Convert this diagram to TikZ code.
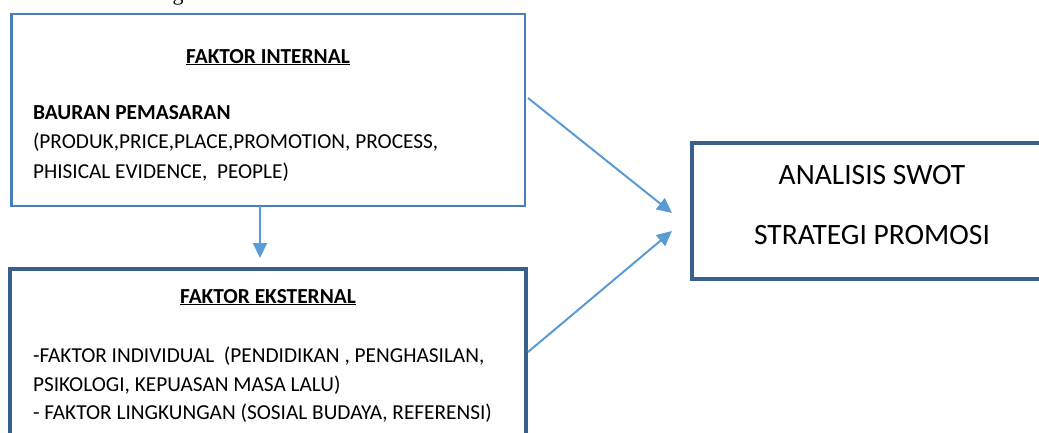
\documentclass[tikz,border=0pt]{standalone}
\usepackage{fontspec}
\setmainfont{Carlito}
\newfontfamily\cutserif{Liberation Serif}
\usetikzlibrary{arrows.meta}
\definecolor{thinblue}{HTML}{4A7EBB}
\definecolor{darkblue}{HTML}{3A5F8D}
\definecolor{arrowblue}{HTML}{5B9BD5}
\begin{document}
\begin{tikzpicture}[x=1pt,y=-1pt,
  box/.style={rectangle, inner sep=0pt, outer sep=0pt},
  thinbox/.style={box, draw=thinblue, line width=2.5pt},
  thickbox/.style={box, draw=darkblue, line width=4.5pt},
  txt/.style={inner sep=0pt, outer sep=0pt, font=\fontsize{21.3}{25}\selectfont},
  ttl/.style={inner sep=0pt, outer sep=0pt, font=\fontsize{21.4}{25}\selectfont\bfseries},
  big/.style={inner sep=0pt, outer sep=0pt, font=\fontsize{29.5}{34}\selectfont},
  conn/.style={draw=arrowblue, line width=2pt, -{Triangle[length=15pt,width=14pt]}}
]
\useasboundingbox (0,0) rectangle (1039,432);
\clip (0,0) rectangle (1039,432);

% cut-off glyph from the text above the figure
\node[inner sep=0pt, anchor=base, font=\cutserif\fontsize{22}{26}\selectfont] (cut) at (178,0.5) {g};

% boxes
\node[thinbox, minimum width=513.6pt, minimum height=192pt] (int) at (268.2,110) {};
\node[thickbox, minimum width=516pt, minimum height=200pt] (ext) at (268,369) {};
\node[thickbox, minimum width=408pt, minimum height=136pt] (swot) at (896,211) {};

% texts of internal box
\node[ttl, anchor=base] (t1) at (268,63) {\underline{FAKTOR INTERNAL}};
\node[ttl, anchor=base west] (b1) at (33,119.5) {BAURAN PEMASARAN};
\node[txt, anchor=base west] (b2) at (33,148) {(PRODUK,PRICE,PLACE,PROMOTION, PROCESS,};
\node[txt, anchor=base west] (b3) at (33,178) {PHISICAL EVIDENCE,\ \ PEOPLE)};

% texts of external box
\node[ttl, anchor=base] (t2) at (268,303) {\underline{FAKTOR EKSTERNAL}};
\node[txt, anchor=base west] (e1) at (33,362) {-FAKTOR INDIVIDUAL\ \ (PENDIDIKAN , PENGHASILAN,};
\node[txt, anchor=base west] (e2) at (33,391) {PSIKOLOGI, KEPUASAN MASA LALU)};
\node[txt, anchor=base west] (e3) at (33,419) {- FAKTOR LINGKUNGAN (SOSIAL BUDAYA, REFERENSI)};

% texts of right box
\node[big, anchor=base] (s1) at (872,184) {ANALISIS SWOT};
\node[big, anchor=base] (s2) at (872,244) {STRATEGI PROMOSI};

% connector end points
\coordinate (d0) at (260,206);
\coordinate (d1) at (260,258);
\coordinate (a0) at (528,98);
\coordinate (a1) at (672,213);
\coordinate (c0) at (528,352);
\coordinate (c1) at (672,231);

\draw[conn] (d0) -- (d1);
\draw[conn] (a0) -- (a1);
\draw[conn] (c0) -- (c1);
\end{tikzpicture}
\end{document}
